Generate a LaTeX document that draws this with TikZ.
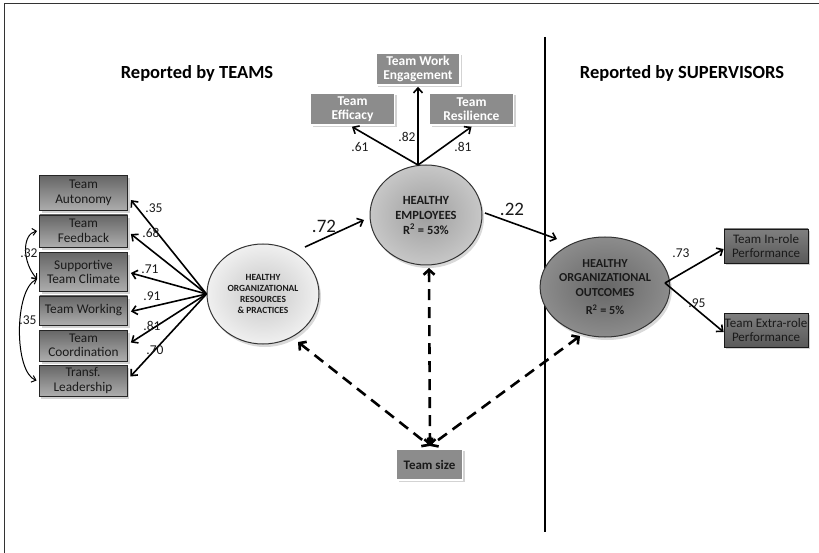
\documentclass[tikz,border=0pt]{standalone}
\usepackage{fontspec}
\setmainfont{Carlito}
\usetikzlibrary{shapes.geometric,shadows,arrows.meta}
\definecolor{txt}{HTML}{1A1A1A}
\tikzset{
  lbox/.style={draw=black!85, line width=0.8pt, top color=black!60, bottom color=black!32,
    minimum width=88pt, minimum height=32pt, inner sep=1pt, align=center, text=txt,
    font=\fontsize{13.3}{14.5}\selectfont,
    drop shadow={opacity=0.35, shadow xshift=2pt, shadow yshift=-3pt}},
  tbox/.style={draw=white, line width=1.5pt, fill=black!45, text=white,
    minimum width=84pt, minimum height=32pt, inner sep=1pt, align=center,
    font=\bfseries\fontsize{13.5}{14.5}\selectfont,
    drop shadow={opacity=0.35, shadow xshift=2pt, shadow yshift=-2pt}},
  rbox/.style={draw=black!90, line width=0.8pt, top color=black!50, bottom color=black!65,
    minimum width=84pt, minimum height=34pt, inner sep=0pt, align=center, text=txt,
    font=\fontsize{13}{14.5}\selectfont,
    drop shadow={opacity=0.35, shadow xshift=2pt, shadow yshift=-2pt}},
  latent/.style={ellipse, draw=black!80, line width=1pt, inner sep=0pt, align=center,
    minimum width=112pt, minimum height=100pt, text=txt,
    drop shadow={opacity=0.3, shadow xshift=2pt, shadow yshift=-3pt}},
  arr/.style={line width=1.6pt, -{Straight Barb[length=5pt,width=9pt]}},
  darr/.style={line width=2.6pt, dash pattern=on 11pt off 7pt,
    {Straight Barb[length=5pt,width=11pt]}-{Straight Barb[length=5pt,width=11pt]}},
  dbl/.style={line width=1pt, {Straight Barb[length=4pt,width=7pt]}-{Straight Barb[length=4pt,width=7pt]}},
  coef/.style={font=\fontsize{13.5}{14}\selectfont, text=txt, inner sep=0pt},
  bigcoef/.style={font=\fontsize{19}{21}\selectfont, text=txt, inner sep=0pt},
  head/.style={font=\bfseries\fontsize{18.5}{20}\selectfont, text=black}
}
\begin{document}
\begin{tikzpicture}[x=1pt,y=-1pt]
\useasboundingbox (0,0) rectangle (819,553);
% frame
\draw[line width=0.9pt, black!80] (4,553) -- (4,3) -- (819,3);
% divider
\coordinate (dtop) at (545,37);
\coordinate (dbot) at (545,532);
\draw[line width=1.6pt] (dtop) -- (dbot);
% headings
\node[head] (h1) at (197,73) {Reported by TEAMS};
\node[head] (h2) at (682,73) {Reported by SUPERVISORS};

% left indicator boxes
\node[lbox, minimum height=35pt] (aut) at (83.5,193) {Team\\Autonomy};
\node[lbox] (feed) at (83.5,231) {Team\\Feedback};
\node[lbox, minimum height=39pt] (clim) at (83.5,272) {Supportive\\Team Climate};
\node[lbox, minimum height=29pt] (work) at (83.5,310.5) {Team Working};
\node[lbox, minimum height=31pt] (coord) at (83.5,345.5) {Team\\Coordination};
\node[lbox, minimum height=31pt] (lead) at (83,380.5) {Transf.\\Leadership};

% latent variables
\node[latent, inner color=black!22, outer color=black!6,
  font=\bfseries\fontsize{9.4}{11}\selectfont] (HO) at (263,294)
  {HEALTHY\\ORGANIZATIONAL\\RESOURCES\\\& PRACTICES};
\node[latent, inner color=black!38, outer color=black!22,
  font=\bfseries\fontsize{12.5}{15}\selectfont] (HE) at (426,215)
  {HEALTHY\\EMPLOYEES\\R\textsuperscript{2} = 53\%};
\node[latent, inner color=black!60, outer color=black!45,
  font=\bfseries\fontsize{12.2}{14.5}\selectfont] (OUT) at (605,287)
  {HEALTHY\\ORGANIZATIONAL\\OUTCOMES\\[4pt]R\textsuperscript{2} = 5\%};

% top indicator boxes
\node[tbox] (eng) at (418,69) {Team Work\\Engagement};
\node[tbox] (eff) at (352.5,109) {Team\\Efficacy};
\node[tbox] (res) at (471.5,109) {Team\\Resilience};

% right indicator boxes
\node[rbox] (inr) at (766,246) {Team In-role\\Performance};
\node[rbox] (exr) at (766,330) {Team Extra-role\\Performance};

% team size
\node[tbox, text=txt, fill=black!45, minimum width=66pt, minimum height=31pt,
  font=\bfseries\fontsize{13}{14}\selectfont] (size) at (429.5,464.5) {Team size};

% loadings left
\draw[arr] (HO.west) -- ([xshift=3pt,yshift=-7pt]aut.east);
\draw[arr] (HO.west) -- ([xshift=3pt,yshift=-3pt]feed.east);
\draw[arr] (HO.west) -- ([xshift=3pt,yshift=-1pt]clim.east);
\draw[arr] (HO.west) -- ([xshift=3pt,yshift=-1pt]work.east);
\draw[arr] (HO.west) -- ([xshift=3pt,yshift=3pt]coord.east);
\draw[arr] (HO.west) -- ([xshift=3pt,yshift=4pt]lead.east);
\node[coef] (l1) at (154,208) {.35};
\node[coef] (l2) at (151,233) {.68};
\node[coef] (l3) at (150,269) {.71};
\node[coef] (l4) at (152,296) {.91};
\node[coef] (l5) at (152,326) {.81};
\node[coef] (l6) at (155,350) {.70};

% correlations
\draw[dbl] ([xshift=-2pt]feed.west) .. controls (22,234) and (22,262) .. ([xshift=-2pt,yshift=-7pt]clim.west);
\draw[dbl] ([xshift=-2pt,yshift=-7pt]clim.west) .. controls (14,290) and (14,372) .. ([xshift=-2pt]lead.west);
\node[coef, inner sep=0.5pt] (c1) at (29,253) {.32};
\node[coef, inner sep=0.5pt] (c2) at (28,320) {.35};

% structural paths
\coordinate (s72) at (305,247);
\coordinate (e72) at (364,220);
\draw[arr] (s72) -- (e72);
\node[bigcoef] (p72) at (324,226) {.72};
\coordinate (s22) at (485,213);
\coordinate (e22) at (557,239);
\draw[arr] (s22) -- (e22);
\node[bigcoef] (p22) at (512,209) {.22};

% top loadings
\coordinate (hetop) at (418,165);
\draw[arr] (hetop) -- ([xshift=-0.5pt,yshift=-1pt]eff.south);
\draw[arr] (hetop) -- ([yshift=-1pt]eng.south);
\draw[arr] (hetop) -- ([yshift=-1pt]res.south);
\node[coef] (t1) at (360,147) {.61};
\node[coef] (t2) at (407,137) {.82};
\node[coef] (t3) at (463,147) {.81};

% right loadings
\coordinate (oright) at (665,283);
\draw[arr] (oright) -- ([yshift=-3pt]inr.west);
\draw[arr] (oright) -- ([yshift=-2pt]exr.west);
\node[coef] (r1) at (681,253) {.73};
\node[coef] (r2) at (697,303) {.95};

% team size dashed
\coordinate (apex) at (430,446);
\coordinate (hotip) at (298,342);
\coordinate (hetip) at (429,268);
\coordinate (outtip) at (580,336);
\draw[darr] (hotip) -- (apex);
\draw[darr] (hetip) -- (apex);
\draw[darr] (outtip) -- (apex);
\end{tikzpicture}
\end{document}
